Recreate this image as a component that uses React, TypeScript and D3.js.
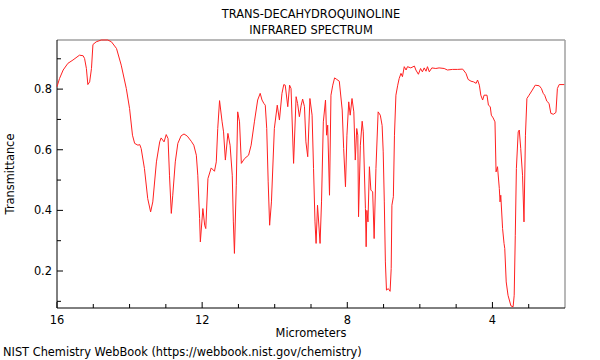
import { useEffect, useRef } from 'react'
import * as d3 from 'd3'

// spectrum: wavelength (µm) and transmittance
const WAVELENGTH = [
  16.0, 15.93, 15.83, 15.7, 15.56, 15.38, 15.28, 15.24, 15.19, 15.15, 15.1, 15.05, 15.01, 14.92, 14.78, 14.6,
  14.5, 14.36, 14.23, 14.09, 14.0, 13.92, 13.86, 13.77, 13.72, 13.68, 13.59, 13.5, 13.42, 13.36, 13.26, 13.17,
  13.13, 13.05, 12.99, 12.94, 12.9, 12.85, 12.81, 12.74, 12.67, 12.58, 12.5, 12.41, 12.3, 12.23, 12.16, 12.12,
  12.07, 12.05, 11.98, 11.93, 11.9, 11.84, 11.75, 11.66, 11.61, 11.57, 11.52, 11.45, 11.41, 11.36, 11.29, 11.23,
  11.17, 11.14, 11.11, 11.06, 11.02, 10.97, 10.92, 10.83, 10.72, 10.65, 10.56, 10.47, 10.4, 10.35, 10.3, 10.26,
  10.22, 10.18, 10.14, 10.09, 10.01, 9.93, 9.87, 9.8, 9.75, 9.71, 9.64, 9.59, 9.55, 9.48, 9.41, 9.37,
  9.32, 9.27, 9.23, 9.18, 9.14, 9.09, 9.03, 8.97, 8.93, 8.89, 8.86, 8.82, 8.75, 8.71, 8.66, 8.6,
  8.57, 8.54, 8.49, 8.45, 8.4, 8.35, 8.29, 8.22, 8.14, 8.1, 8.05, 8.01, 7.96, 7.92, 7.87, 7.82,
  7.78, 7.74, 7.71, 7.69, 7.64, 7.59, 7.56, 7.5, 7.48, 7.46, 7.43, 7.39, 7.35, 7.3, 7.26, 7.21,
  7.15, 7.09, 7.04, 7.01, 6.98, 6.95, 6.92, 6.87, 6.82, 6.79, 6.77, 6.73, 6.7, 6.66, 6.61, 6.57,
  6.52, 6.48, 6.43, 6.38, 6.34, 6.25, 6.15, 6.11, 6.04, 5.98, 5.93, 5.88, 5.83, 5.79, 5.74, 5.67,
  5.56, 5.47, 5.33, 5.24, 5.1, 4.96, 4.82, 4.73, 4.67, 4.59, 4.52, 4.45, 4.41, 4.36, 4.32, 4.27,
  4.23, 4.15, 4.11, 4.06, 4.03, 3.98, 3.93, 3.9, 3.86, 3.81, 3.79, 3.77, 3.72, 3.68, 3.66, 3.62,
  3.57, 3.49, 3.43, 3.4, 3.37, 3.34, 3.29, 3.26, 3.22, 3.17, 3.13, 3.09, 3.05, 2.99, 2.9, 2.82,
  2.71, 2.65, 2.6, 2.56, 2.5, 2.44, 2.39, 2.32, 2.25, 2.21, 2.16, 2.02,
]
const TRANSMITTANCE = [
  0.808, 0.835, 0.863, 0.885, 0.896, 0.912, 0.91, 0.901, 0.868, 0.815, 0.824, 0.868, 0.947, 0.956, 0.962, 0.962,
  0.956, 0.934, 0.879, 0.802, 0.736, 0.648, 0.621, 0.615, 0.617, 0.604, 0.538, 0.439, 0.395, 0.428, 0.56, 0.626,
  0.639, 0.626, 0.65, 0.637, 0.516, 0.39, 0.45, 0.56, 0.621, 0.646, 0.652, 0.645, 0.628, 0.615, 0.582, 0.516,
  0.373, 0.296, 0.406, 0.351, 0.34, 0.505, 0.54, 0.529, 0.56, 0.67, 0.762, 0.692, 0.659, 0.566, 0.654, 0.615,
  0.516, 0.362, 0.258, 0.483, 0.725, 0.692, 0.555, 0.571, 0.582, 0.615, 0.692, 0.764, 0.786, 0.764, 0.753, 0.747,
  0.67, 0.494, 0.351, 0.428, 0.67, 0.747, 0.698, 0.786, 0.815, 0.813, 0.742, 0.813, 0.802, 0.555, 0.775, 0.753,
  0.709, 0.747, 0.767, 0.742, 0.626, 0.577, 0.769, 0.714, 0.538, 0.362, 0.291, 0.417, 0.291, 0.428, 0.692, 0.764,
  0.648, 0.681, 0.45, 0.78, 0.813, 0.837, 0.832, 0.826, 0.731, 0.604, 0.478, 0.648, 0.758, 0.714, 0.769, 0.725,
  0.566, 0.67, 0.648, 0.379, 0.615, 0.694, 0.659, 0.406, 0.28, 0.4, 0.362, 0.544, 0.467, 0.461, 0.307, 0.538,
  0.725, 0.714, 0.68, 0.593, 0.428, 0.23, 0.137, 0.142, 0.133, 0.208, 0.417, 0.445, 0.648, 0.78, 0.813, 0.835,
  0.852, 0.841, 0.874, 0.863, 0.874, 0.87, 0.876, 0.863, 0.849, 0.868, 0.857, 0.87, 0.859, 0.874, 0.857, 0.87,
  0.868, 0.87, 0.868, 0.863, 0.865, 0.865, 0.866, 0.852, 0.832, 0.826, 0.824, 0.819, 0.83, 0.813, 0.78, 0.764,
  0.78, 0.78, 0.747, 0.742, 0.714, 0.705, 0.692, 0.527, 0.544, 0.472, 0.428, 0.45, 0.34, 0.291, 0.274, 0.164,
  0.12, 0.085, 0.082, 0.12, 0.318, 0.538, 0.659, 0.665, 0.604, 0.516, 0.362, 0.648, 0.769, 0.78, 0.797, 0.813,
  0.811, 0.802, 0.786, 0.78, 0.76, 0.753, 0.72, 0.717, 0.723, 0.802, 0.815, 0.815,
]

const X_TICKS = [16, 12, 8, 4]
const Y_TICKS = [0.2, 0.4, 0.6, 0.8]
const TITLE = ['TRANS-DECAHYDROQUINOLINE', 'INFRARED SPECTRUM']

export default function App() {
  const svgRef = useRef<SVGSVGElement>(null)

  useEffect(() => {
    if (!svgRef.current) return
    const svg = d3.select(svgRef.current)
    svg.selectAll('*').remove()

    const W = 600, H = 360
    const margin = { top: 40, right: 35, bottom: 52, left: 57 }
    const iW = W - margin.left - margin.right
    const iH = H - margin.top - margin.bottom
    const font = 'DejaVu Sans, sans-serif'
    const fs = 11.4

    const x = d3.scaleLinear().domain([16, 2]).range([0, iW])
    const y = d3.scaleLinear().domain([0.078, 0.962]).range([iH, 0])

    const g = svg.append('g').attr('transform', `translate(${margin.left},${margin.top})`)

    // frame: grey top/right, black axes
    g.append('line').attr('x1', 0).attr('x2', iW).attr('y1', 0).attr('y2', 0)
      .attr('stroke', '#a0a0a0').attr('stroke-width', 1.5)
    g.append('line').attr('x1', iW).attr('x2', iW).attr('y1', 0).attr('y2', iH)
      .attr('stroke', '#a0a0a0').attr('stroke-width', 1.5)

    // minor ticks
    const xMinor = d3.range(15, 2, -1).filter(v => v % 4 !== 0)
    const yMinor = [0.1, 0.3, 0.5, 0.7, 0.9]

    const xAxis = g.append('g').attr('transform', `translate(0,${iH})`)
    xAxis.append('line').attr('x1', 0).attr('x2', iW).attr('stroke', '#000')
    xAxis.selectAll('line.major').data(X_TICKS).join('line').attr('class', 'major')
      .attr('x1', d => x(d)).attr('x2', d => x(d)).attr('y1', 0).attr('y2', -6).attr('stroke', '#000')
    xAxis.selectAll('line.minor').data(xMinor).join('line').attr('class', 'minor')
      .attr('x1', d => x(d)).attr('x2', d => x(d)).attr('y1', 0).attr('y2', -4).attr('stroke', '#000')
    xAxis.selectAll('text').data(X_TICKS).join('text')
      .attr('x', d => x(d)).attr('y', 16).attr('text-anchor', 'middle')
      .attr('font-family', font).attr('font-size', fs).attr('fill', '#000').text(d => d)

    const yAxis = g.append('g')
    yAxis.append('line').attr('y1', 0).attr('y2', iH).attr('stroke', '#000')
    yAxis.selectAll('line.major').data(Y_TICKS).join('line').attr('class', 'major')
      .attr('y1', d => y(d)).attr('y2', d => y(d)).attr('x1', 0).attr('x2', 6).attr('stroke', '#000')
    yAxis.selectAll('line.minor').data(yMinor).join('line').attr('class', 'minor')
      .attr('y1', d => y(d)).attr('y2', d => y(d)).attr('x1', 0).attr('x2', 4).attr('stroke', '#000')
    yAxis.selectAll('text').data(Y_TICKS).join('text')
      .attr('x', -5).attr('y', d => y(d) + 4).attr('text-anchor', 'end')
      .attr('font-family', font).attr('font-size', fs).attr('fill', '#000').text(d => d.toFixed(1))

    // spectrum
    const pts = WAVELENGTH.map((w, i) => [w, TRANSMITTANCE[i]] as [number, number])
    g.append('path')
      .datum(pts)
      .attr('d', d3.line<[number, number]>().x(d => x(d[0])).y(d => y(d[1])))
      .attr('fill', 'none').attr('stroke', '#ff2020').attr('stroke-width', 1)

    // labels
    svg.append('text').attr('x', margin.left + iW / 2).attr('y', H - 23)
      .attr('text-anchor', 'middle').attr('font-family', font).attr('font-size', fs).text('Micrometers')
    svg.append('text').attr('transform', `translate(14,${margin.top + iH / 2}) rotate(-90)`)
      .attr('text-anchor', 'middle').attr('font-family', font).attr('font-size', fs).text('Transmittance')
    TITLE.forEach((t, i) => {
      svg.append('text').attr('x', margin.left + iW / 2).attr('y', 18 + i * 16)
        .attr('text-anchor', 'middle').attr('font-family', font).attr('font-size', fs).text(t)
    })
    svg.append('text').attr('x', 3).attr('y', H - 4)
      .attr('font-family', font).attr('font-size', fs).text('NIST Chemistry WebBook (https://webbook.nist.gov/chemistry)')
  }, [])

  return (
    <svg ref={svgRef} width={600} height={360}
      style={{ position: 'absolute', left: 0, top: 0, background: '#fff' }} />
  )
}
